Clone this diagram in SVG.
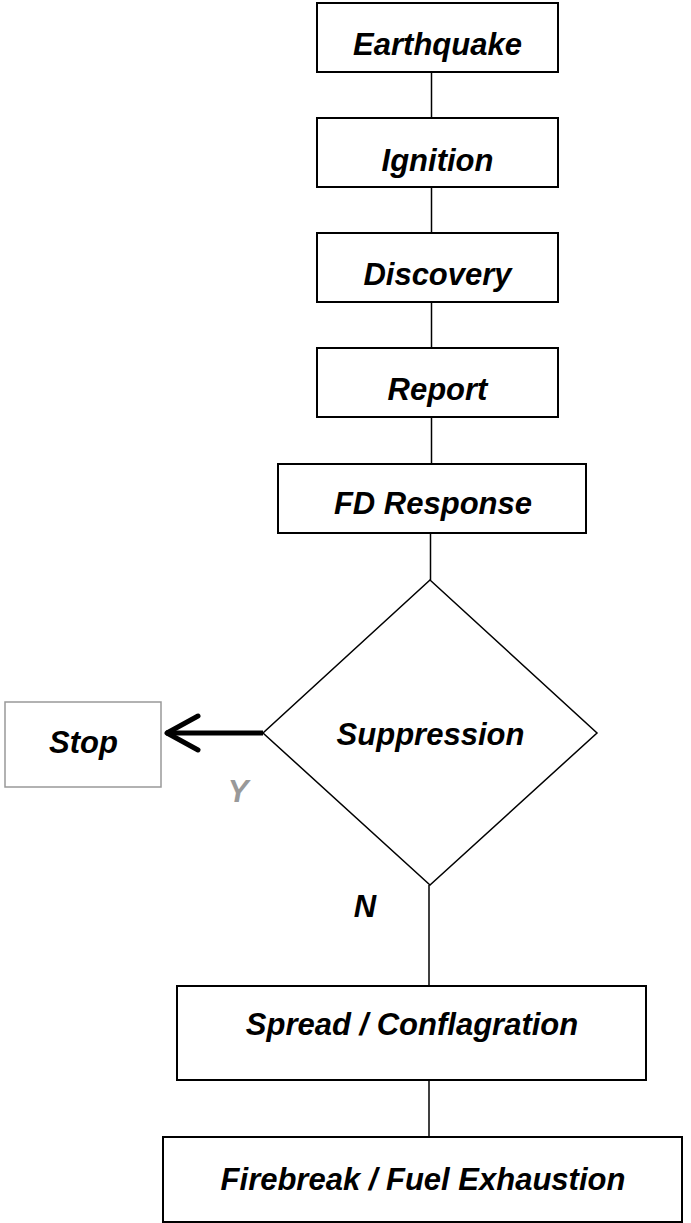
<svg xmlns="http://www.w3.org/2000/svg" width="691" height="1223" viewBox="0 0 691 1223">
<style>
.box{fill:#fff;stroke:#000;stroke-width:2}
.stop{fill:#fff;stroke:#999;stroke-width:1.5}
.dia{fill:#fff;stroke:#000;stroke-width:1.5}
.lbl{font-family:"Liberation Sans",Arial,sans-serif;font-weight:bold;font-style:italic;font-size:31px;text-anchor:middle;fill:#000}
.conn{stroke:#000;stroke-width:1.5;fill:none}
</style>
<defs>
<marker id="chev" markerUnits="userSpaceOnUse" viewBox="-40 -22 46 44" markerWidth="46" markerHeight="44" refX="0" refY="0" orient="auto">
<path d="M-32,-17 L-1,0 L-32,17" fill="none" stroke="#000" stroke-width="5" stroke-linecap="round" stroke-linejoin="round"/>
</marker>
</defs>
<g id="connectors">
<line class="conn" x1="431.5" y1="72" x2="431.5" y2="118"/>
<line class="conn" x1="431.5" y1="187" x2="431.5" y2="233"/>
<line class="conn" x1="431.5" y1="302" x2="431.5" y2="348"/>
<line class="conn" x1="431.5" y1="417" x2="431.5" y2="464"/>
<line class="conn" x1="430.5" y1="533" x2="430.5" y2="580"/>
<line class="conn" x1="429" y1="885" x2="429" y2="986"/>
<line class="conn" x1="429" y1="1080" x2="429" y2="1137"/>
<line x1="263" y1="733" x2="166" y2="733" stroke="#000" stroke-width="5" marker-end="url(#chev)"/>
<text class="lbl" x="238" y="802" style="fill:#999">Y</text>
<text class="lbl" x="365" y="917">N</text>
</g>
<g id="earthquake">
<rect class="box" x="317" y="3" width="241" height="69"/>
<text class="lbl" x="437.5" y="55">Earthquake</text>
</g>
<g id="ignition">
<rect class="box" x="317" y="118" width="241" height="69"/>
<text class="lbl" x="437.5" y="171">Ignition</text>
</g>
<g id="discovery">
<rect class="box" x="317" y="233" width="241" height="69"/>
<text class="lbl" x="437.5" y="285">Discovery</text>
</g>
<g id="report">
<rect class="box" x="317" y="348" width="241" height="69"/>
<text class="lbl" x="437.5" y="400">Report</text>
</g>
<g id="fd-response">
<rect class="box" x="278" y="464" width="308" height="69"/>
<text class="lbl" x="433" y="514">FD Response</text>
</g>
<g id="suppression">
<polygon class="dia" points="430,580 597,733 430,885 263,733"/>
<text class="lbl" x="430.5" y="745">Suppression</text>
</g>
<g id="stop">
<rect class="stop" x="5" y="702" width="156" height="85"/>
<text class="lbl" x="83.5" y="753">Stop</text>
</g>
<g id="spread">
<rect class="box" x="177" y="986" width="469" height="94"/>
<text class="lbl" x="412" y="1035">Spread / Conflagration</text>
</g>
<g id="firebreak">
<rect class="box" x="163" y="1137" width="519" height="85"/>
<text class="lbl" x="423" y="1190">Firebreak / Fuel Exhaustion</text>
</g>
</svg>
